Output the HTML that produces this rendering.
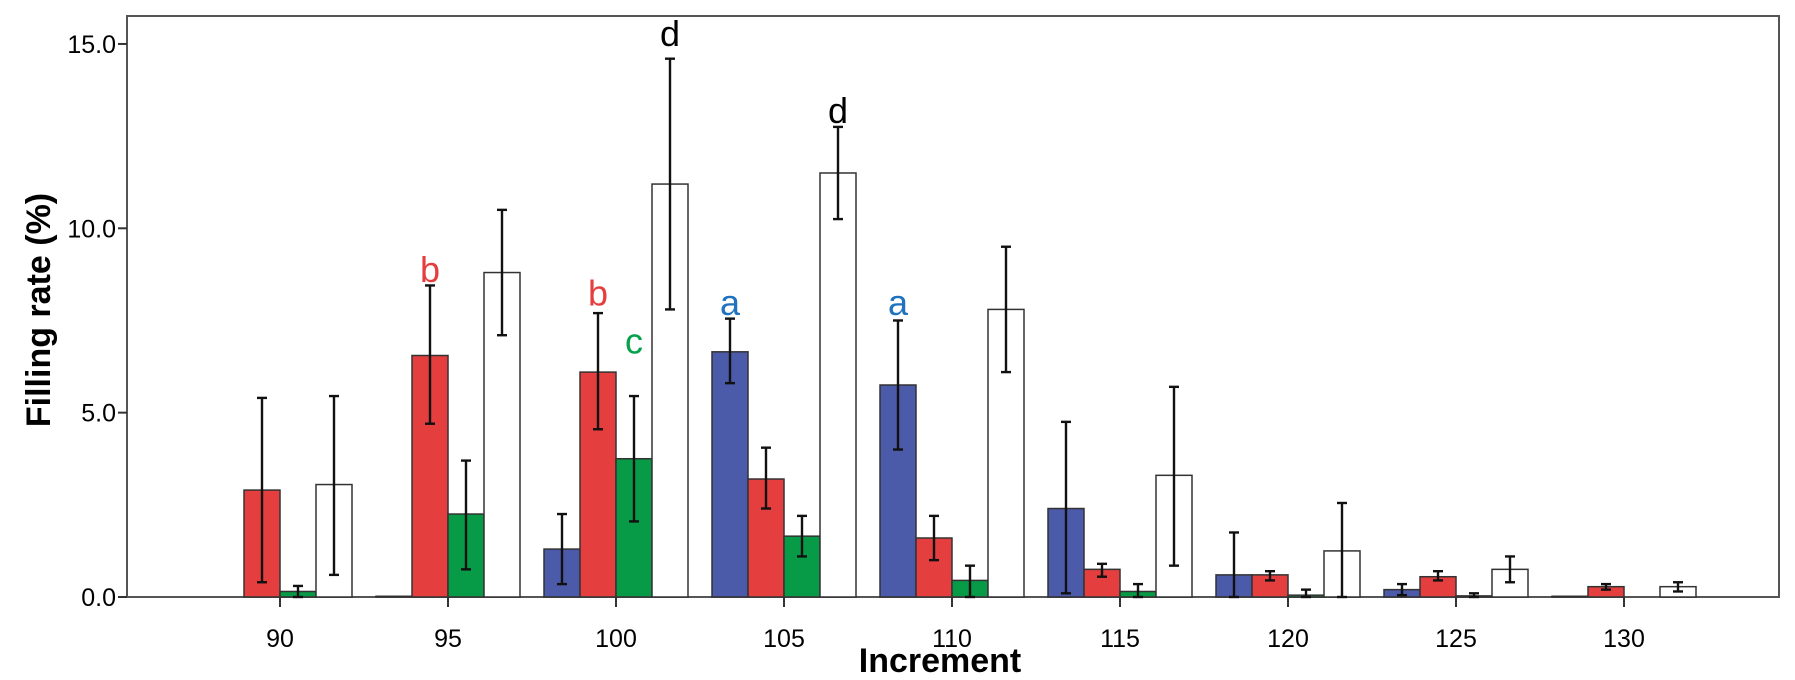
<!DOCTYPE html>
<html><head><meta charset="utf-8"><style>
html,body{margin:0;padding:0;background:#fff;width:1795px;height:680px;overflow:hidden}
svg text{font-family:"Liberation Sans",Arial,sans-serif}
</style></head><body>
<svg id="chart" width="1795" height="680" viewBox="0 0 1795 680" xmlns="http://www.w3.org/2000/svg">
<rect x="127" y="16" width="1652" height="581" fill="#fff" stroke="#555" stroke-width="2"/>
<g id="bars"></g>
<g id="axes"></g>
<text x="940" y="672" font-size="34" font-weight="bold" text-anchor="middle">Increment</text>
<text transform="translate(50,310) rotate(-90)" font-size="34" font-weight="bold" text-anchor="middle">Filling rate (%)</text>
</svg>
<script>
const categories = [90,95,100,105,110,115,120,125,130];
const seriesBlue  = [0, 0.02, 1.3, 6.65, 5.75, 2.4, 0.6, 0.2, 0.02];
const blueLo      = [0, 0, 0.35, 5.8, 4.0, 0.1, 0, 0.05, 0];
const blueHi      = [0, 0, 2.25, 7.55, 7.5, 4.75, 1.75, 0.35, 0];
const seriesRed   = [2.9, 6.55, 6.1, 3.2, 1.6, 0.75, 0.6, 0.55, 0.28];
const redLo       = [0.4, 4.7, 4.55, 2.4, 1.0, 0.55, 0.45, 0.45, 0.2];
const redHi       = [5.4, 8.45, 7.7, 4.05, 2.2, 0.9, 0.7, 0.7, 0.35];
const seriesGreen = [0.15, 2.25, 3.75, 1.65, 0.45, 0.15, 0.05, 0.03, 0];
const greenLo     = [0, 0.75, 2.05, 1.1, 0, 0, 0, 0, 0];
const greenHi     = [0.3, 3.7, 5.45, 2.2, 0.85, 0.35, 0.2, 0.1, 0];
const seriesWhite = [3.05, 8.8, 11.2, 11.5, 7.8, 3.3, 1.25, 0.75, 0.28];
const whiteLo     = [0.6, 7.1, 7.8, 10.25, 6.1, 0.85, 0, 0.4, 0.15];
const whiteHi     = [5.45, 10.5, 14.6, 12.75, 9.5, 5.7, 2.55, 1.1, 0.4];
const yTicks = [0, 5, 10, 15];
const yTickLabels = ["0.0","5.0","10.0","15.0"];
const letterText = ["b","b","c","d","a","d","a"];
const letterCat = [1,2,2,2,3,3,4];
const letterSeries = [1,1,2,3,0,3,0];
const letterValue = [8.55,7.9,6.6,14.95,7.65,12.85,7.65];

const NS="http://www.w3.org/2000/svg";
const x0=280, dx=168/5, bw=36;
function xScale(c){return x0+(c-90)*dx;}
function yScale(v){return 597-v*36.87;}
const series=[
 {v:seriesBlue,lo:blueLo,hi:blueHi,fill:"#4b5aa9",name:"blue"},
 {v:seriesRed,lo:redLo,hi:redHi,fill:"#e53e3f",name:"red"},
 {v:seriesGreen,lo:greenLo,hi:greenHi,fill:"#079a47",name:"green"},
 {v:seriesWhite,lo:whiteLo,hi:whiteHi,fill:"#ffffff",name:"white"}];
const letterColors=["#1f72bd","#e53e3f","#07a04b","#000"];
const gb=document.getElementById('bars'), ga=document.getElementById('axes');
function mk(t,a,p){const e=document.createElementNS(NS,t);for(const k in a)e.setAttribute(k,a[k]);p.appendChild(e);return e;}
categories.forEach((c,i)=>{
  const tx=xScale(c);
  series.forEach((s,j)=>{
    const bx=tx+(j-2)*bw, v=s.v[i];
    const r=mk('rect',{x:bx,y:yScale(v),width:bw,height:Math.max(0,yScale(0)-yScale(v)),fill:s.fill,stroke:"#333","stroke-width":1.5},gb);
    
    
    if(s.hi[i]>s.lo[i]+0.001){
      const cx=bx+bw/2, g=mk('g',{stroke:"#111","stroke-width":2.4},gb);
      
      
      mk('line',{x1:cx,x2:cx,y1:yScale(s.lo[i]),y2:yScale(s.hi[i])},g);
      mk('line',{x1:cx-5,x2:cx+5,y1:yScale(s.lo[i]),y2:yScale(s.lo[i])},g);
      mk('line',{x1:cx-5,x2:cx+5,y1:yScale(s.hi[i]),y2:yScale(s.hi[i])},g);
    }
  });
  const tk=mk('line',{x1:tx,x2:tx,y1:597,y2:607,stroke:"#333","stroke-width":2},ga);
  
  
  const tl=mk('text',{x:tx,y:647,"font-size":25,"text-anchor":"middle"},ga);
  tl.textContent=c;
  
  
});
yTicks.forEach((v,i)=>{
  const y=yScale(v);
  const tk=mk('line',{x1:118,x2:127,y1:y,y2:y,stroke:"#333","stroke-width":2},ga);
  
  
  const tl=mk('text',{x:116,y:y+9,"font-size":25,"text-anchor":"end"},ga);
  tl.textContent=yTickLabels[i];
  
  
});
letterText.forEach((t,i)=>{
  const j=letterSeries[i], c=categories[letterCat[i]];
  const lx=xScale(c)+(j-2)*bw+bw/2;
  const el=mk('text',{x:lx,y:yScale(letterValue[i]),"font-size":36,"text-anchor":"middle",fill:letterColors[j]},gb);
  el.textContent=t;
  
  
});
</script>
</body></html>
